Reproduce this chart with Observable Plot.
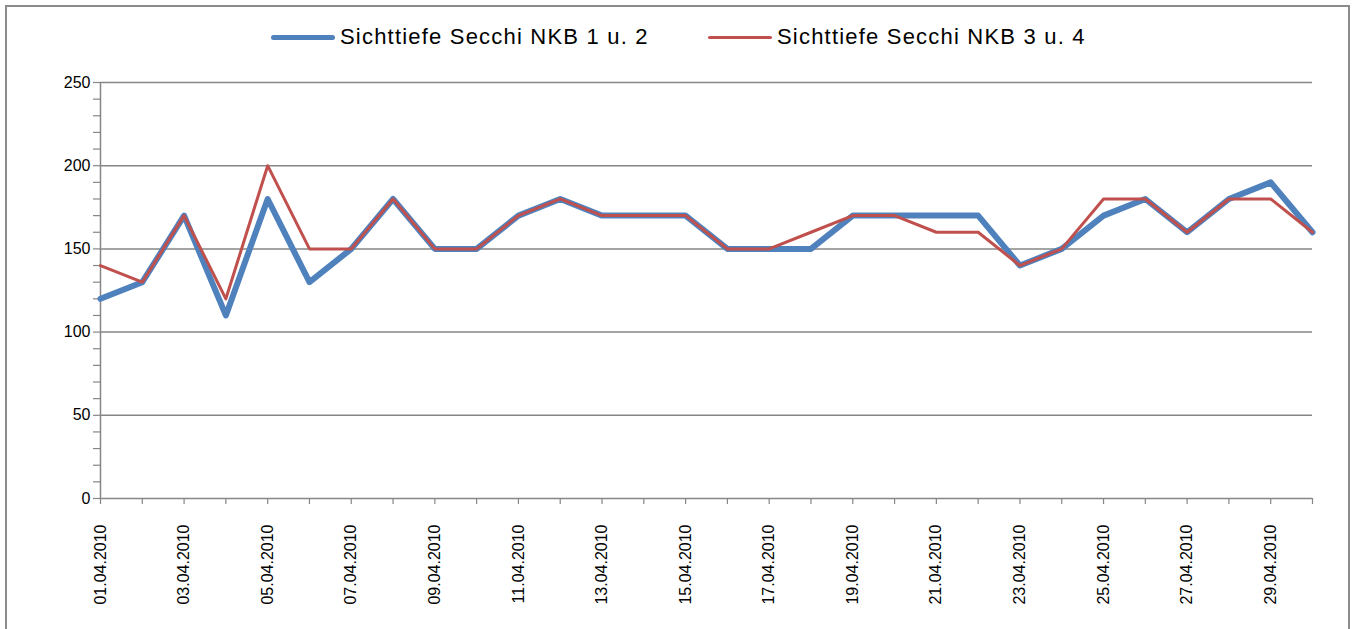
<!DOCTYPE html>
<html>
<head>
<meta charset="utf-8">
<script src="https://cdn.jsdelivr.net/npm/d3@7"></script>
<script src="https://cdn.jsdelivr.net/npm/@observablehq/plot@0.6"></script>
<style>
  html, body { margin: 0; padding: 0; background: #fff; }
  body { width: 1354px; height: 629px; overflow: hidden; position: relative; font-family: "Liberation Sans", Arial, sans-serif; }
  #frame { position: absolute; left: 5px; top: 5px; width: 1341px; height: 640px; border: 2px solid #8c8c8c; pointer-events: none; }
  #legend { position: relative; height: 60px; }
  .item { position: absolute; top: 24px; display: flex; align-items: center; font-size: 22px; color: #000; white-space: nowrap; letter-spacing: 1.2px; }
  .swatch { display: inline-block; width: 64px; margin-right: 5px; border-radius: 3px; }
  #chart svg { display: block; }
</style>
</head>
<body>
<div id="legend">
  <div class="item" style="left:271px"><span class="swatch" style="height:5px;background:#4F81BD"></span><span id="l1"></span></div>
  <div class="item" style="left:708px"><span class="swatch" style="height:3px;background:#C0504D"></span><span id="l2"></span></div>
</div>
<div id="chart"></div>
<div id="frame"></div>
<script>
const seriesNames = ["Sichttiefe Secchi NKB 1 u. 2", "Sichttiefe Secchi NKB 3 u. 4"];
const dates = ["01.04.2010","02.04.2010","03.04.2010","04.04.2010","05.04.2010","06.04.2010","07.04.2010","08.04.2010","09.04.2010","10.04.2010",
  "11.04.2010","12.04.2010","13.04.2010","14.04.2010","15.04.2010","16.04.2010","17.04.2010","18.04.2010","19.04.2010","20.04.2010",
  "21.04.2010","22.04.2010","23.04.2010","24.04.2010","25.04.2010","26.04.2010","27.04.2010","28.04.2010","29.04.2010","30.04.2010"];
const nkb12 = [120,130,170,110,180,130,150,180,150,150,170,180,170,170,170,150,150,150,170,170,170,170,140,150,170,180,160,180,190,160];
const nkb34 = [140,130,170,120,200,150,150,180,150,150,170,180,170,170,170,150,150,160,170,170,160,160,140,150,180,180,160,180,180,160];
const yTicks = [0,50,100,150,200,250];

document.getElementById("l1").textContent = seriesNames[0];
document.getElementById("l2").textContent = seriesNames[1];

const rows1 = dates.map((d, i) => ({date: d, value: nkb12[i]}));
const rows2 = dates.map((d, i) => ({date: d, value: nkb34[i]}));
const minor = d3.range(0, 251, 10);

const chart = Plot.plot({
  width: 1354,
  height: 569,
  marginLeft: 100,
  marginRight: 42,
  marginTop: 22,
  marginBottom: 131,
  style: {fontFamily: "'Liberation Sans', Arial, sans-serif", fontSize: "16px", color: "#000", background: "#fff"},
  x: {type: "point", domain: dates, padding: 0, round: false},
  y: {domain: [0, 250]},
  marks: [
    Plot.gridY(yTicks.filter(t => t > 0), {stroke: "#868686", strokeOpacity: 1, strokeWidth: 1.5}),
    Plot.ruleX([dates[0]], {y1: 0, y2: 250, stroke: "#868686", strokeWidth: 1.5}),
    Plot.ruleY([0], {stroke: "#868686", strokeWidth: 1.5}),
    Plot.axisY({ticks: minor, tickSize: 7, tickPadding: 3, stroke: "#868686", strokeWidth: 1.2,
      tickFormat: d => yTicks.includes(d) ? String(d) : "", fill: "#000", label: null, fontSize: 16}),
    Plot.axisX({ticks: dates, tickSize: 6, tickPadding: 20, tickRotate: -90, stroke: "#868686", strokeWidth: 1.2,
      tickFormat: d => dates.indexOf(d) % 2 === 0 ? d : "", fill: "#000", label: null, fontSize: 16}),
    Plot.line(rows1, {x: "date", y: "value", stroke: "#4F81BD", strokeWidth: 6, strokeLinejoin: "round", strokeLinecap: "round"}),
    Plot.line(rows2, {x: "date", y: "value", stroke: "#C0504D", strokeWidth: 3, strokeLinejoin: "round", strokeLinecap: "round"})
  ]
});
document.getElementById("chart").appendChild(chart);
</script>
</body>
</html>
